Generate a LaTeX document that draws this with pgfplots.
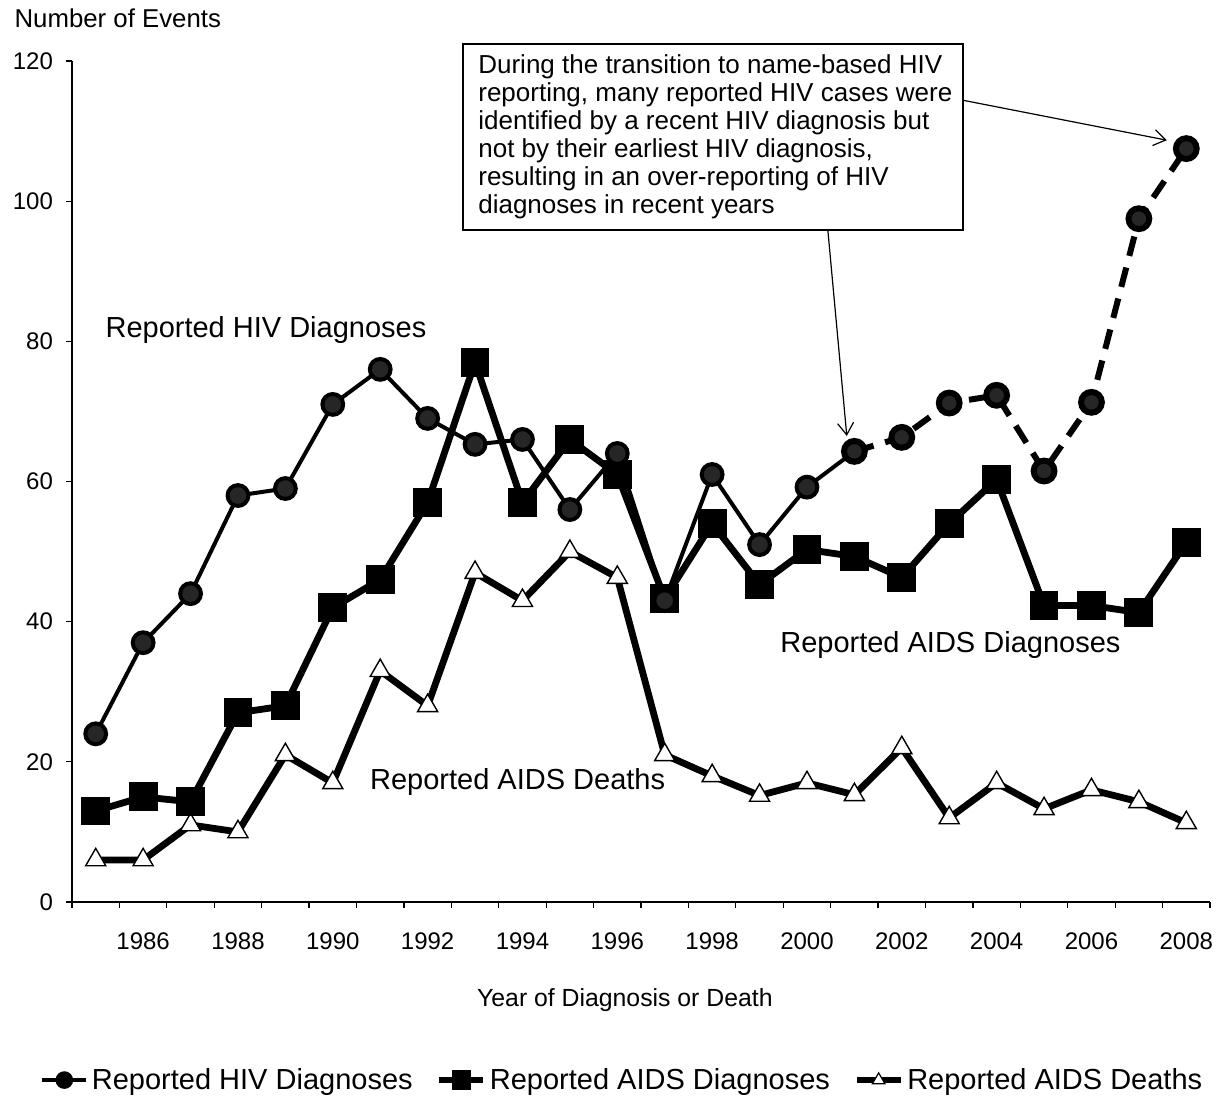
\documentclass[border=0pt]{standalone}
\usepackage{pgfplots}
\pgfplotsset{compat=1.18}
\usepackage{fontspec}
\setmainfont{Liberation Sans}
\usetikzlibrary{arrows.meta}

\pgfplotstableread{
year hiv
1985 24
1986 37
1987 44
1988 58
1989 59
1990 71
1991 76
1992 69
1993 65.3
1994 66
1995 56
1996 64
1997 43
1998 61
1999 51
2000 59.2
2001 64.3
}\hivsolid

\pgfplotstableread{
year hiv
2001 64.3
2002 66.3
2003 71.2
2004 72.3
2005 61.5
2006 71.3
2007 97.5
2008 107.5
}\hivdashed

\pgfplotstableread{
year aids deaths
1985 13 6
1986 15 6
1987 14.3 11
1988 27 10
1989 28 21
1990 42 17
1991 46 33
1992 57 28
1993 77 47
1994 57 43
1995 66 50
1996 61 46.3
1997 43.3 21
1998 54 18
1999 45.3 15.2
2000 50.3 17
2001 49.3 15.3
2002 46.3 22
2003 54 12
2004 60.3 17
2005 42.3 13.3
2006 42.3 16
2007 41.3 14.3
2008 51.3 11.3
}\aidstab

\begin{document}
\begin{tikzpicture}
\begin{axis}[
  scale only axis, width=569pt, height=420.5pt,
  xmin=1984.5, xmax=2008.5, ymin=0, ymax=120,
  axis x line*=bottom, axis y line*=left,
  axis line style={black, line width=0.8pt},
  clip=false,
  xtick={1986,1988,...,2008},
  minor xtick={1984.5,1985.5,...,2008.5},
  ytick={0,20,...,120},
  tick align=outside,
  major x tick style={draw=none},
  minor tick length=3pt,
  major tick length=3pt,
  tick style={black, line width=0.6pt},
  /pgf/number format/1000 sep={},
  /pgf/number format/assume math mode=true,
  xticklabel style={font=\fontsize{12}{13}\selectfont, yshift=-9pt},
  yticklabel style={font=\fontsize{12}{13}\selectfont, xshift=-3pt},
  legend style={at={(0.4846,-0.2117)}, anchor=center, draw=none, fill=none,
     legend columns=3, font=\fontsize{14.5}{16}\selectfont,
     /tikz/every even column/.append style={column sep=10pt},
     legend cell align=left, inner sep=0pt},
  legend image code/.code={%
    \draw[#1, mark size=3.6pt, mark repeat=2, mark phase=2]
      plot coordinates {(0pt,0pt) (11pt,0pt) (22pt,0pt)};},
]
% legend images
\addlegendimage{black, line width=1.6pt, mark=*, mark options={solid}}
\addlegendentry{Reported HIV Diagnoses}
\addlegendimage{black, line width=2.6pt, mark=square*, mark options={solid}}
\addlegendentry{Reported AIDS Diagnoses}
\addlegendimage{black, line width=2.6pt, mark=triangle*, mark options={solid, fill=white, line width=0.6pt}}
\addlegendentry{Reported AIDS Deaths}

% AIDS deaths: marks first, then line on top
\addplot[forget plot, only marks, mark=triangle*, mark size=5.8pt,
  mark options={fill=white, draw=black, line width=0.7pt}]
  table[x=year, y=deaths] {\aidstab};
\addplot[forget plot, black, line width=3.4pt, mark=none]
  table[x=year, y=deaths] {\aidstab};

% AIDS diagnoses
\addplot[forget plot, black, line width=3.4pt, mark=square*, mark size=5.5pt]
  table[x=year, y=aids] {\aidstab};

% HIV diagnoses
\addplot[forget plot, black, line width=2pt, mark=*, mark size=5.2pt,
  mark options={fill=black!85}]
  table[x=year, y=hiv] {\hivsolid};
\addplot[forget plot, black, line width=3pt, dash pattern=on 10pt off 6pt,
  mark=*, mark size=5.2pt, mark options={solid, fill=black!85}]
  table[x=year, y=hiv] {\hivdashed};

% series labels
\node[anchor=west, font=\fontsize{14.5}{16}\selectfont, inner sep=0pt]
  at (axis cs:1985.2,81.6) {Reported HIV Diagnoses};
\node[anchor=west, font=\fontsize{14.5}{16}\selectfont, inner sep=0pt]
  at (axis cs:1999.43,36.7) {Reported AIDS Diagnoses};
\node[anchor=west, font=\fontsize{14.5}{16}\selectfont, inner sep=0pt]
  at (axis cs:1990.78,17.1) {Reported AIDS Deaths};

% axis titles
\node[anchor=west, font=\fontsize{12.9}{14}\selectfont, inner sep=0pt]
  at (axis cs:1983.28,126.1) {Number of Events};
\node[anchor=center, font=\fontsize{12.4}{14}\selectfont, inner sep=0pt]
  at (axis cs:1996.16,-14.0) {Year of Diagnosis or Death};

% callout box
\draw[black, line width=0.6pt] (axis cs:1992.745,95.89) rectangle (axis cs:2003.29,122.43);
\node[anchor=north west, align=left, inner sep=0pt,
  font=\fontsize{13}{14}\selectfont]
  at ([xshift=7.5pt,yshift=-5pt]axis cs:1992.745,122.43)
  {During the transition to name-based HIV\\
   reporting, many reported HIV cases were\\
   identified by a recent HIV diagnosis but\\
   not by their earliest HIV diagnosis,\\
   resulting in an over-reporting of HIV\\
   diagnoses in recent years};
\draw[black, line width=0.6pt, -{Straight Barb[length=6pt, width=8pt]}]
  (axis cs:2003.29,114.4) -- (axis cs:2007.59,108.7);
\draw[black, line width=0.6pt, -{Straight Barb[length=6pt, width=8pt]}]
  (axis cs:2000.44,95.89) -- (axis cs:2000.84,66.5);
\end{axis}
\pgfresetboundingbox
\path ([xshift=-36pt,yshift=-99pt]current axis.south west) rectangle
      ([xshift=6pt,yshift=30.5pt]current axis.north east);
\end{tikzpicture}
\end{document}
